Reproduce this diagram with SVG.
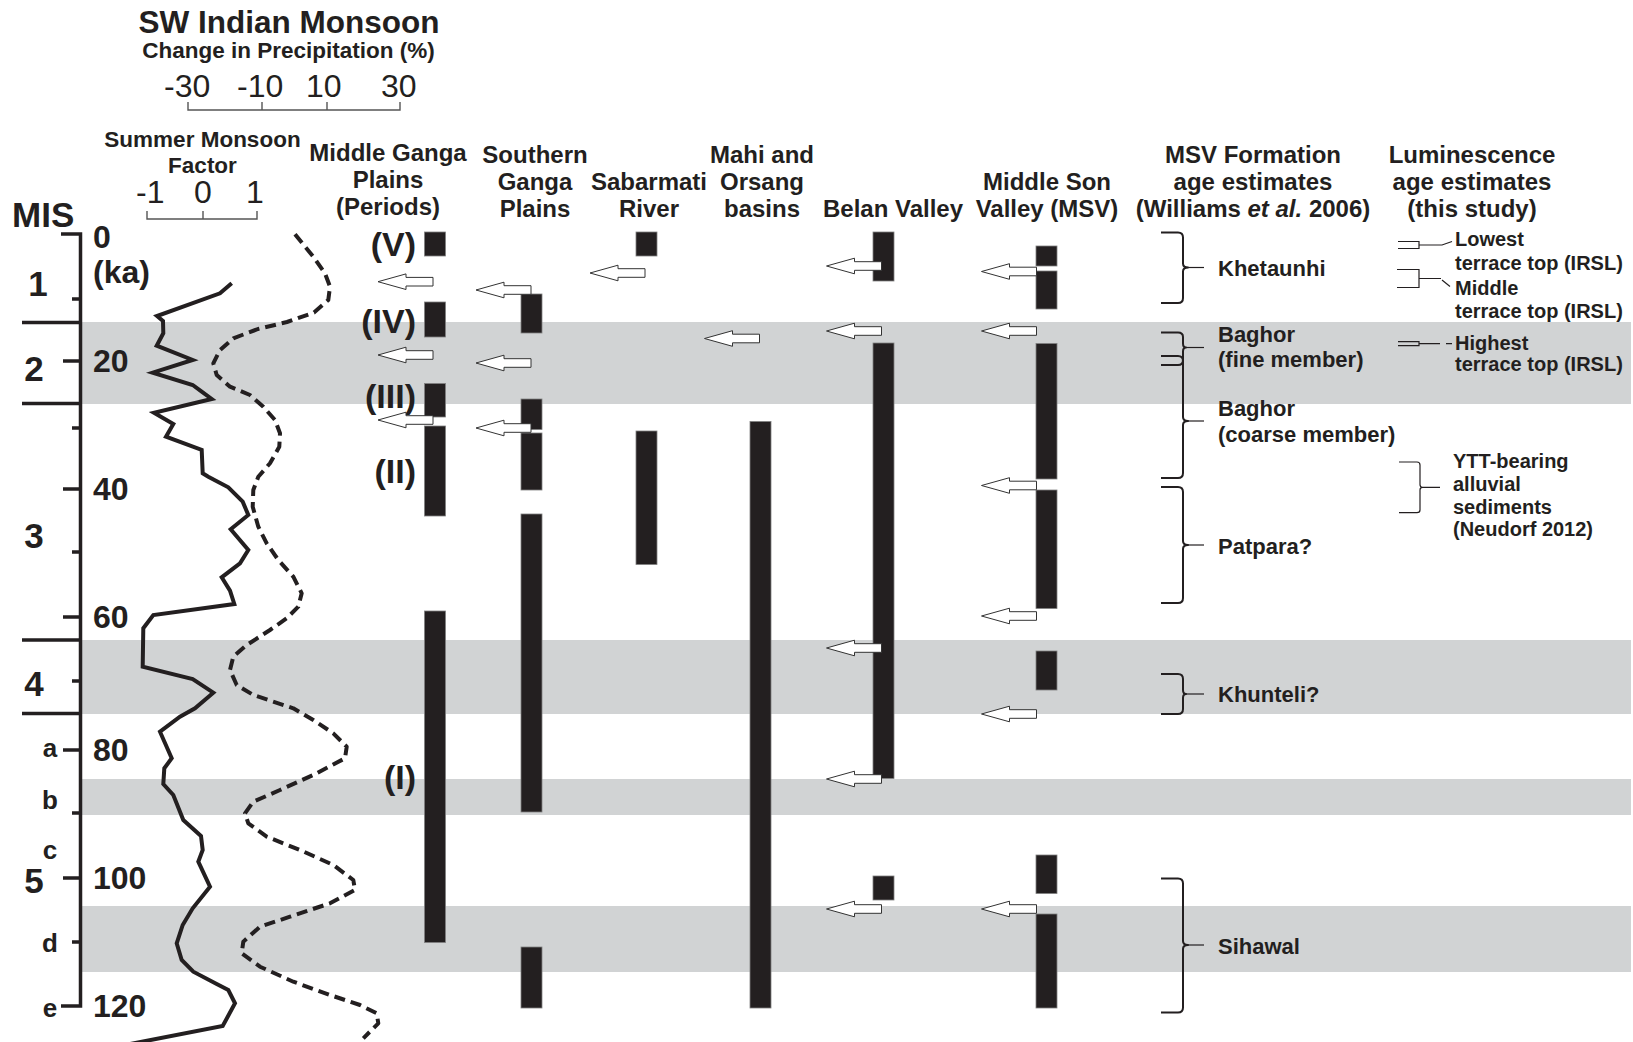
<svg xmlns="http://www.w3.org/2000/svg" xmlns:xlink="http://www.w3.org/1999/xlink" width="1633" height="1042" viewBox="0 0 1633 1042">
<style>
text{font-family:"Liberation Sans",Arial,Helvetica,sans-serif;fill:#231f20}
.b{font-weight:bold}
.hd{font-size:24px;font-weight:bold;text-anchor:middle}
.lab{font-size:22px;font-weight:bold}
.sm{font-size:20px;font-weight:bold}
.num{font-size:32px;font-weight:bold}
.mis{font-size:35px;font-weight:bold;text-anchor:middle}
.let{font-size:26px;font-weight:bold;text-anchor:middle}
.rom{font-size:34px;font-weight:bold;text-anchor:end}
.sc{font-size:32px}
.band{fill:#d1d3d4}
.bar{fill:#231f20;stroke:#808080;stroke-width:0.8}
.ax{stroke:#231f20;stroke-width:3.5;fill:none}
.scl{stroke:#555;stroke-width:1.4;fill:none}
.brace{stroke:#231f20;stroke-width:2;fill:none;stroke-linejoin:round}
.thin{stroke:#231f20;stroke-width:1.2;fill:none}
.arrow{fill:#fff;stroke:#333;stroke-width:1}
</style>
<defs>
<path id="arr" d="M0,0 L28,-7.8 L28,-4.3 L55,-4.3 L55,4.3 L28,4.3 L28,7.8 Z"/>
</defs>
<rect width="1633" height="1042" fill="#fff"/>

<g id="bands">
<rect class="band" x="80" y="322" width="1551" height="82"/>
<rect class="band" x="80" y="640" width="1551" height="74"/>
<rect class="band" x="80" y="779" width="1551" height="36"/>
<rect class="band" x="80" y="906" width="1551" height="66"/>
</g>

<g id="top-headers">
<text class="b" x="289" y="33" font-size="31.5" text-anchor="middle">SW Indian Monsoon</text>
<text class="b" x="288.5" y="58" font-size="22.5" text-anchor="middle">Change in Precipitation (%)</text>
<text class="sc" x="164" y="97">-30</text>
<text class="sc" x="237" y="97">-10</text>
<text class="sc" x="306" y="97">10</text>
<text class="sc" x="381" y="97">30</text>
<path class="scl" d="M188,102 V110 H400 V102 M262,110 V102 M327,110 V102"/>
<text class="b" x="202.5" y="147" font-size="22.5" text-anchor="middle">Summer Monsoon</text>
<text class="b" x="202.5" y="173" font-size="22.5" text-anchor="middle">Factor</text>
<text class="sc" x="136" y="203">-1</text>
<text class="sc" x="194" y="203">0</text>
<text class="sc" x="246" y="203">1</text>
<path class="scl" d="M147,211 V219 H257 V211 M203,219 V211"/>
</g>

<g id="axis">
<text class="b" x="12" y="227" font-size="35">MIS</text>
<polyline class="ax" points="61,234 80.5,234 80.5,1006 61,1006"/>
<path class="ax" d="M63,361 H80 M63,489 H80 M63,617 H80 M63,750 H80 M63,878 H80"/>
<path class="ax" d="M72,299 H80 M72,428 H80 M72,552 H80 M72,681 H80 M72,813 H80 M72,942 H80"/>
<path class="ax" d="M22,322.5 H80 M22,403.5 H80 M22,640 H80 M22,713.5 H80"/>
<text class="num" x="93" y="248">0</text>
<text class="num" x="93" y="283">(ka)</text>
<text class="num" x="93" y="372">20</text>
<text class="num" x="93" y="500">40</text>
<text class="num" x="93" y="628">60</text>
<text class="num" x="93" y="761">80</text>
<text class="num" x="93" y="889">100</text>
<text class="num" x="93" y="1017">120</text>
<text class="mis" x="38" y="296">1</text>
<text class="mis" x="34" y="381">2</text>
<text class="mis" x="34" y="548">3</text>
<text class="mis" x="34" y="696">4</text>
<text class="mis" x="34" y="893">5</text>
<text class="let" x="50" y="757">a</text>
<text class="let" x="50" y="809">b</text>
<text class="let" x="50" y="859">c</text>
<text class="let" x="50" y="952">d</text>
<text class="let" x="50" y="1017">e</text>
</g>

<g id="curves">
<polyline fill="none" stroke="#231f20" stroke-width="4" stroke-linejoin="miter" points="231.7,283.3 220,293.3 157,316 163,321 163.3,333.3 156.7,345.7 192.7,360 152.7,372.7 192.7,385 201.7,391.7 211.7,399 154,412.7 173.3,424 166,436.7 201.7,450 202.7,473.3 208.3,476.7 228.3,487.3 242.7,501.7 248.3,515 230.7,529.3 248.3,550 240,563.3 221.7,577.3 230,590.7 234.3,604 153.3,615 143.3,628.3 142.7,666.7 192.7,679 213.3,692.7 195,708.3 180,716.7 160,731.7 171.7,758.3 164.3,768.3 163.3,784 173.3,795 183.3,820 201,836 202.7,850 198.3,861.7 210,886.7 192.7,908.3 182.7,925 176.7,943.3 181.7,960 193.3,971.7 216.7,984 228.3,990 235,1003.3 222.7,1026 125,1045"/>
<polyline fill="none" stroke="#231f20" stroke-width="4" stroke-dasharray="11 6" stroke-linejoin="round" points="295,234.3 313.3,256.7 325,273.3 330,286.7 328.3,300 314,312.5 287,322 258,329 233.3,338.3 220,350 213.3,363.3 216.7,375 230,386.7 250,395 263.3,406.7 275,420 280,433.3 279.3,446.7 270,463.3 258.3,476.7 253.3,490 252.7,506.7 258.3,526.7 266.7,543.3 278.3,560 293.3,576.7 301.7,593.3 298.3,606.7 286.7,618.3 270,630 246.7,645 233.3,656.7 230,670 236.7,685 253.3,695 293.3,708.3 313.3,720 333.3,733.3 346.7,746.7 345,758.3 313.3,775 280,790 253.3,801.7 245,813.3 248.3,823.3 266.7,836.7 300,850 333.3,865 353.3,880 355,890 330,903.3 290,916.7 260,926.7 243.3,941.7 241.7,953.3 260,966.7 293.3,981.7 330,995 360,1005 376.7,1013.3 378.3,1023.3 363.3,1038.3"/>
</g>

<g id="col-mgp">
<text class="hd" x="388" y="161">Middle Ganga</text>
<text class="hd" x="388" y="188">Plains</text>
<text class="hd" x="388" y="215">(Periods)</text>
<rect class="bar" x="424.5" y="232" width="21" height="24"/>
<rect class="bar" x="424.5" y="302" width="21" height="35"/>
<rect class="bar" x="424.5" y="383.5" width="21" height="33.5"/>
<rect class="bar" x="424.5" y="426" width="21" height="90"/>
<rect class="bar" x="424.5" y="611" width="21" height="331.5"/>
<text class="rom" x="416" y="256">(V)</text>
<text class="rom" x="416" y="333">(IV)</text>
<text class="rom" x="416" y="408">(III)</text>
<text class="rom" x="416" y="483">(II)</text>
<text class="rom" x="416" y="789">(I)</text>
</g>

<g id="col-sgp">
<text class="hd" x="535" y="163">Southern</text>
<text class="hd" x="535" y="190">Ganga</text>
<text class="hd" x="535" y="217">Plains</text>
<rect class="bar" x="521" y="294" width="21" height="39"/>
<rect class="bar" x="521" y="399" width="21" height="30.5"/>
<rect class="bar" x="521" y="433" width="21" height="57"/>
<rect class="bar" x="521" y="514" width="21" height="298"/>
<rect class="bar" x="521" y="947" width="21" height="61"/>
</g>

<g id="col-sabarmati">
<text class="hd" x="649" y="190">Sabarmati</text>
<text class="hd" x="649" y="217">River</text>
<rect class="bar" x="636" y="232" width="21" height="24"/>
<rect class="bar" x="636" y="431" width="21" height="133.5"/>
</g>

<g id="col-mahi">
<text class="hd" x="762" y="163">Mahi and</text>
<text class="hd" x="762" y="190">Orsang</text>
<text class="hd" x="762" y="217">basins</text>
<rect class="bar" x="750" y="421.5" width="21" height="586.5"/>
</g>

<g id="col-belan">
<text class="hd" x="893" y="217">Belan Valley</text>
<rect class="bar" x="873" y="232" width="21" height="49"/>
<rect class="bar" x="873" y="343" width="21" height="435.5"/>
<rect class="bar" x="873" y="876" width="21" height="24"/>
</g>

<g id="col-msv">
<text class="hd" x="1047" y="190">Middle Son</text>
<text class="hd" x="1047" y="217">Valley (MSV)</text>
<rect class="bar" x="1036" y="246" width="21" height="20"/>
<rect class="bar" x="1036" y="271" width="21" height="38"/>
<rect class="bar" x="1036" y="343.5" width="21" height="135.5"/>
<rect class="bar" x="1036" y="490" width="21" height="118.5"/>
<rect class="bar" x="1036" y="651" width="21" height="39"/>
<rect class="bar" x="1036" y="855" width="21" height="38.5"/>
<rect class="bar" x="1036" y="914" width="21" height="94"/>
</g>

<g id="connectors">
<use class="arrow" href="#arr" xlink:href="#arr" x="378" y="281.7"/>
<use class="arrow" href="#arr" xlink:href="#arr" x="378" y="355"/>
<use class="arrow" href="#arr" xlink:href="#arr" x="378" y="420"/>
<use class="arrow" href="#arr" xlink:href="#arr" x="476" y="290"/>
<use class="arrow" href="#arr" xlink:href="#arr" x="476" y="363"/>
<use class="arrow" href="#arr" xlink:href="#arr" x="476" y="428"/>
<use class="arrow" href="#arr" xlink:href="#arr" x="590" y="273"/>
<use class="arrow" href="#arr" xlink:href="#arr" x="704.5" y="338.5"/>
<use class="arrow" href="#arr" xlink:href="#arr" x="826.5" y="266"/>
<use class="arrow" href="#arr" xlink:href="#arr" x="826.5" y="331"/>
<use class="arrow" href="#arr" xlink:href="#arr" x="826.5" y="648"/>
<use class="arrow" href="#arr" xlink:href="#arr" x="826.5" y="779"/>
<use class="arrow" href="#arr" xlink:href="#arr" x="826.5" y="909"/>
<use class="arrow" href="#arr" xlink:href="#arr" x="981.5" y="271.5"/>
<use class="arrow" href="#arr" xlink:href="#arr" x="981.5" y="331"/>
<use class="arrow" href="#arr" xlink:href="#arr" x="981.5" y="485.5"/>
<use class="arrow" href="#arr" xlink:href="#arr" x="981.5" y="616"/>
<use class="arrow" href="#arr" xlink:href="#arr" x="981.5" y="714"/>
<use class="arrow" href="#arr" xlink:href="#arr" x="981.5" y="909"/>
</g>

<g id="col-msv-formation">
<text class="hd" x="1253" y="163">MSV Formation</text>
<text class="hd" x="1253" y="190">age estimates</text>
<text class="hd" x="1253" y="217">(Williams <tspan font-style="italic">et al.</tspan> 2006)</text>
<path class="brace" d="M1161,232.5 H1178 Q1183,232.5 1183,237.5 V263.5 Q1183,267.5 1188,267.5 Q1183,267.5 1183,271.5 V298 Q1183,303 1178,303 H1161"/>
<path class="thin" d="M1186,267.5 H1204"/>
<path class="brace" d="M1161,332.5 H1178 Q1183,332.5 1183,337 V343.5 Q1183,347.5 1186,347.5 Q1183,347.5 1183,351.5 V360 Q1183,365 1178,365 H1161"/>
<path class="thin" d="M1186,347.5 H1204"/>
<path class="brace" d="M1161,356 H1178 Q1183,356 1183,361 V417 Q1183,421 1188,421 Q1183,421 1183,425 V473 Q1183,478 1178,478 H1161"/>
<path class="thin" d="M1186,421 H1204"/>
<path class="brace" d="M1161,487 H1178 Q1183,487 1183,492 V541 Q1183,545 1188,545 Q1183,545 1183,549 V598 Q1183,603 1178,603 H1161"/>
<path class="thin" d="M1186,545 H1204"/>
<path class="brace" d="M1161,674 H1178 Q1183,674 1183,679 V690 Q1183,694 1186,694 Q1183,694 1183,698 V709 Q1183,714 1178,714 H1161"/>
<path class="thin" d="M1186,694 H1204"/>
<path class="brace" d="M1161,878.5 H1178 Q1183,878.5 1183,883.5 V941 Q1183,945 1188,945 Q1183,945 1183,949 V1007.5 Q1183,1012.5 1178,1012.5 H1161"/>
<path class="thin" d="M1186,945 H1204"/>
<text class="lab" x="1218" y="276">Khetaunhi</text>
<text class="lab" x="1218" y="341.5">Baghor</text>
<text class="lab" x="1218" y="367">(fine member)</text>
<text class="lab" x="1218" y="415.5">Baghor</text>
<text class="lab" x="1218" y="441.5">(coarse member)</text>
<text class="lab" x="1218" y="554">Patpara?</text>
<text class="lab" x="1218" y="702">Khunteli?</text>
<text class="lab" x="1218" y="954">Sihawal</text>
</g>

<g id="col-luminescence">
<text class="hd" x="1472" y="163">Luminescence</text>
<text class="hd" x="1472" y="190">age estimates</text>
<text class="hd" x="1472" y="217">(this study)</text>
<path class="thin" stroke="#666" d="M1398,241.5 H1419 V248.5 H1398 M1419,245 H1442 L1452,241.5"/>
<path class="thin" d="M1397,269.5 H1419 V287.5 H1397 M1419,278.5 H1441 M1442,280 L1450,286.5"/>
<path class="thin" d="M1398,341.7 H1419 V345.7 H1398 M1419,343.7 H1440 M1446,343.7 H1452"/>
<path class="thin" d="M1399,462 H1417 Q1420,462 1420,465 V484.5 Q1420,487.3 1422.5,487.3 Q1420,487.3 1420,490 V510 Q1420,512.7 1417,512.7 H1399 M1422,487.3 H1440"/>
<text class="sm" x="1455" y="245.5">Lowest</text>
<text class="sm" x="1455" y="270">terrace top (IRSL)</text>
<text class="sm" x="1455" y="294.5">Middle</text>
<text class="sm" x="1455" y="317.5">terrace top (IRSL)</text>
<text class="sm" x="1455" y="350">Highest</text>
<text class="sm" x="1455" y="371">terrace top (IRSL)</text>
<text class="sm" x="1453" y="468">YTT-bearing</text>
<text class="sm" x="1453" y="491">alluvial</text>
<text class="sm" x="1453" y="513.5">sediments</text>
<text class="sm" x="1453" y="536">(Neudorf 2012)</text>
</g>
</svg>
